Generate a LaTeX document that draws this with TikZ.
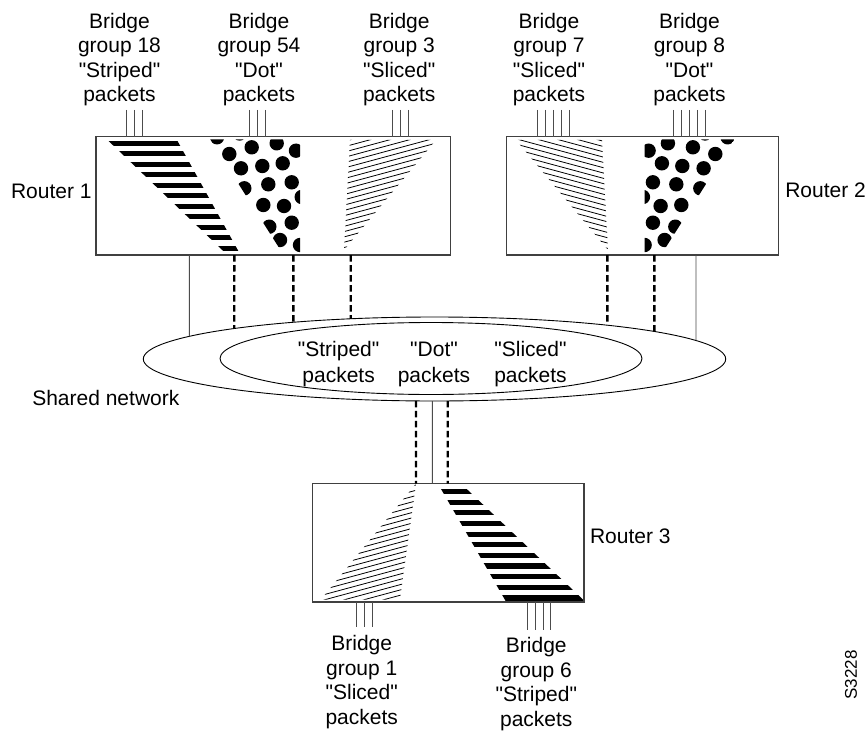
\documentclass[tikz,border=0pt]{standalone}
\usepackage{fontspec}
\setmainfont{Liberation Sans}[Ligatures=TeXOff]
\usetikzlibrary{shapes.geometric,intersections}

% centred multi-line label whose reference point is the first baseline
\newcommand\lbl[1]{\begin{tabular}[t]{@{}c@{}}#1\end{tabular}}

\begin{document}
\begin{tikzpicture}[x=1pt,y=-1pt,
  txt/.style={font=\fontsize{21}{24.5}\selectfont, inner sep=0pt, outer sep=0pt},
  routerbox/.style={draw=black!75, line width=1.1pt, rectangle, inner sep=0pt, outer sep=0pt, minimum height=118.3pt},
  netring/.style={draw=black, line width=0.9pt, ellipse, inner sep=0pt, outer sep=0pt},
  wire/.style={draw=black!70, line width=0.9pt},
  dashlink/.style={draw=black, line width=2.4pt, dash pattern=on 6.5pt off 3.5pt},
  hatch/.style={draw=black, line width=0.8pt},
  blob/.style={fill=black}
]
\fill[white] (0,0) rectangle (866,730);
\useasboundingbox (0,0) rectangle (866,730);

% ---------------- fill patterns inside the routers ----------------
% Router 1: striped band
\begin{scope}
  \clip (104.4,137) -- (175.3,137) -- (240,254) -- (226.4,254) -- cycle;
  \foreach \k in {0,...,10}
    \fill (100,{140.7+10.5*\k}) rectangle (250,{145.9+10.5*\k});
\end{scope}
% Router 1: dots
\begin{scope}
  \clip (210.3,139.5) -- (300,139.5) -- (300,254) -- (283,254) -- cycle;
  \foreach \x/\y in {217/137.3,239.6/133.5,251.7/147.3,276.7/143.3,296/150.7,
      229.3/154,241/168.3,262.3/166,282.7/163.3,244.3/188.3,268.3/184.3,
      291.7/182.3,301.7/197,263.3/205,284/206,269.3/226.7,291.7/222.7,
      280/240,300/245}
    \fill[blob] (\x,\y) circle [radius=7.2];
\end{scope}
% Router 1: sliced
\begin{scope}
  \clip (350,140) -- (436,140) -- (344,250) -- cycle;
  \foreach \k in {0,...,26}
    \draw[hatch] (330,{140+5.3*\k}) -- (450,{140+5.3*\k-32.4});
\end{scope}
% Router 2: sliced
\begin{scope}
  \clip (516,140) -- (602,140) -- (608,250) -- cycle;
  \foreach \k in {0,...,26}
    \draw[hatch] (500,{108+5.3*\k}) -- (620,{108+5.3*\k+32.4});
\end{scope}
% Router 2: dots (mirror image of the Router 1 dots)
\begin{scope}
  \clip (644.6,139.5) -- (734.3,139.5) -- (661.6,254) -- (644.6,254) -- cycle;
  \foreach \x/\y in {217/137.3,239.6/133.5,251.7/147.3,276.7/143.3,296/150.7,
      229.3/154,241/168.3,262.3/166,282.7/163.3,244.3/188.3,268.3/184.3,
      291.7/182.3,301.7/197,263.3/205,284/206,269.3/226.7,291.7/222.7,
      280/240,300/245}
    \fill[blob] ({944.6-\x},\y) circle [radius=7.2];
\end{scope}
% Router 3: sliced
\begin{scope}
  \clip (416,483.7) -- (400,599.5) -- (321,599.5) -- cycle;
  \foreach \k in {0,...,22}
    \draw[hatch] (310,{503+5.3*\k}) -- (430,{503+5.3*\k-32.4});
\end{scope}
% Router 3: striped band
\begin{scope}
  \clip (438.7,485) -- (462.5,485) -- (585.6,602) -- (506.2,602) -- cycle;
  \foreach \k in {0,...,10}
    \fill (430,{489+10.63*\k}) rectangle (584,{494.2+10.63*\k});
\end{scope}

% ---------------- routers ----------------
\node[routerbox, minimum width=354.7pt] (r1) at (273.35,195.85) {};
\node[routerbox, minimum width=272pt]   (r2) at (642.7,195.85) {};
\node[routerbox, minimum width=271.7pt] (r3) at (448.15,542.85) {};

\node[txt, anchor=base west] (r1lab) at (11,198.3) {Router 1};
\node[txt, anchor=base west] (r2lab) at (785.3,197.3) {Router 2};
\node[txt, anchor=base west] (r3lab) at (590,543.3) {Router 3};

% ---------------- shared network ----------------
\node[netring, minimum width=582.4pt, minimum height=84pt] (net) at (434.5,359) {};
\node[netring, minimum width=422pt, minimum height=72pt] (core) at (431,358.5) {};
\path[name path=outerP] (434.5,359) ellipse [x radius=291.2, y radius=42];
\node[txt, anchor=base west] (netlab) at (32.3,405) {Shared network};

\begin{scope}[every node/.style={txt, anchor=base}]
  \renewcommand\arraystretch{1.1}
  \node (pstriped) at (338.6,356) {\lbl{"Striped"\\packets}};
  \node (pdot)     at (434,356)   {\lbl{"Dot"\\packets}};
  \node (psliced)  at (530.5,356) {\lbl{"Sliced"\\packets}};
\end{scope}

% ---------------- router to network links ----------------
\foreach \x/\s in {189.3/wire,234.3/dashlink,293.3/dashlink,350.7/dashlink}{
  \path[name path=v] (\x,250) -- (\x,370);
  \path[name intersections={of=v and outerP, by=hit}];
  \draw[\s] (\x,0 |- r1.south) -- (hit);
}
\foreach \x/\s in {607.3/dashlink,654.3/dashlink,696/wire}{
  \path[name path=v] (\x,250) -- (\x,370);
  \path[name intersections={of=v and outerP, by=hit}];
  \draw[\s] (\x,0 |- r2.south) -- (hit);
}
\foreach \x/\s in {416/dashlink,432.3/wire,447.7/dashlink}{
  \path[name path=v] (\x,370) -- (\x,470);
  \path[name intersections={of=v and outerP, by=hit}];
  \draw[\s] (hit) -- (\x,0 |- r3.north);
}

% ---------------- bridge groups ----------------
\begin{scope}[every node/.style={txt, anchor=base}]
  \node (bg18) at (119.5,28.3) {\lbl{Bridge\\group 18\\"Striped"\\packets}};
  \node (bg54) at (259,28.3)   {\lbl{Bridge\\group 54\\"Dot"\\packets}};
  \node (bg3)  at (399.2,28.3) {\lbl{Bridge\\group 3\\"Sliced"\\packets}};
  \node (bg7)  at (549,28.3)   {\lbl{Bridge\\group 7\\"Sliced"\\packets}};
  \node (bg8)  at (689.5,28.3) {\lbl{Bridge\\group 8\\"Dot"\\packets}};
  \node (bg1)  at (361.7,650.7) {\lbl{Bridge\\group 1\\"Sliced"\\packets}};
  \node (bg6)  at (536.3,652.5) {\lbl{Bridge\\group 6\\"Striped"\\packets}};
\end{scope}

\foreach \x in {126.5,134.5,142.5,249,257,265,392,400,408}
  \draw[wire] (\x,110) -- (\x,0 |- r1.north);
\foreach \x in {537.7,545.7,553.7,561.7,569.7,673.7,681.7,689.7,697.7,705.7}
  \draw[wire] (\x,110) -- (\x,0 |- r2.north);
\foreach \x in {356,364,372}
  \draw[wire] (\x,0 |- r3.south) -- (\x,627);
\foreach \x in {527.5,535.3,543,550.5}
  \draw[wire] (\x,0 |- r3.south) -- (\x,630);

% drawing number
\node[font=\fontsize{17}{20}\selectfont, inner sep=0pt, rotate=90] (code) at (851,675) {S3228};
\end{tikzpicture}
\end{document}
